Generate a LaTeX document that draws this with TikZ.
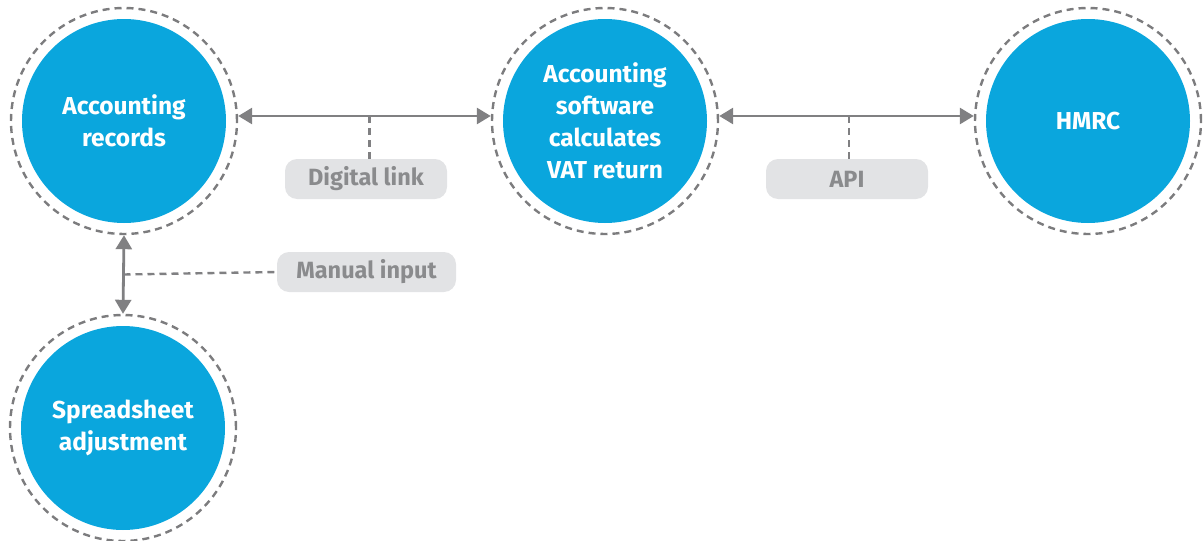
\documentclass[tikz,border=0pt]{standalone}
\usepackage{fontspec}
\setmainfont{Fira Sans}
\usetikzlibrary{arrows.meta}
\definecolor{cblue}{HTML}{0AA6DD}
\definecolor{ringgray}{HTML}{7C7C7E}
\definecolor{linegray}{HTML}{808082}
\definecolor{boxfill}{HTML}{E2E3E5}
\definecolor{boxtext}{HTML}{8A8B8D}
\begin{document}
\begin{tikzpicture}[x=1pt,y=-1pt,
  disc/.style={circle, fill=cblue, minimum size=204pt, inner sep=0pt, text=white,
    font=\bfseries\fontsize{24.5}{32}\selectfont, align=center},
  ring/.style={circle, draw=ringgray, line width=2.4pt, dash pattern=on 7pt off 5pt,
    minimum size=226pt, inner sep=0pt},
  tag/.style={rectangle, rounded corners=12pt, fill=boxfill, text=boxtext,
    minimum height=40pt, inner sep=0pt, font=\bfseries\fontsize{23.5}{28}\selectfont},
  link/.style={draw=linegray, line width=2.8pt, {Triangle[length=14pt,width=16pt]}-{Triangle[length=14pt,width=16pt]}},
  tick/.style={draw=linegray, line width=2.4pt, dash pattern=on 7pt off 5pt}
]
\useasboundingbox (0,0) rectangle (1203,541);
% circles
\node[ring] (recring) at (124,121) {};
\node[disc] (rec) at (124,121) {Accounting\\records};
\node[ring] (swring) at (605,121) {};
\node[disc] (sw) at (605,121) {Accounting\\software\\calculates\\VAT return};
\node[ring] (hmring) at (1088,121) {};
\node[disc] (hm) at (1088,121) {HMRC};
\node[ring] (spring) at (123,428) {};
\node[disc] (sp) at (123,428) {Spreadsheet\\adjustment};
% labels
\node[tag, minimum width=162pt] (dl) at (366,179) {Digital link};
\node[tag, minimum width=162pt] (api) at (847,179) {API};
\node[tag, minimum width=179pt] (mi) at (366.5,272) {Manual input};
% arrows
\draw[link] ([yshift=5pt]recring.east) -- coordinate[pos=0.52] (m1) ([yshift=5pt]swring.west);
\draw[link] ([yshift=5pt]swring.east) -- coordinate[pos=0.51] (m2) ([yshift=5pt]hmring.west);
\draw[link] (recring.south) -- coordinate (m3) (spring.north);
% ticks
\draw[tick] (m1) -- (m1 |- dl.north);
\draw[tick] (m2) -- (m2 |- api.north);
\draw[tick] (m3) -- (mi.west);
\end{tikzpicture}
\end{document}
